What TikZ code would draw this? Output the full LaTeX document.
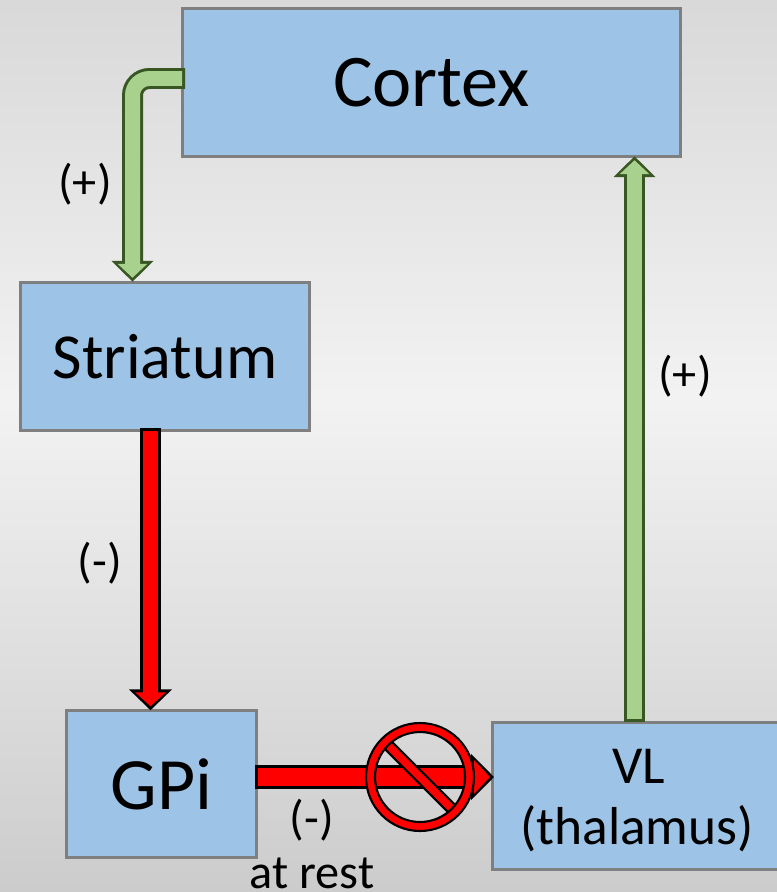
\documentclass[tikz,border=0pt]{standalone}
\usepackage{fontspec}
\setmainfont{Carlito}
\usetikzlibrary{arrows.meta,calc}
\definecolor{boxblue}{HTML}{9DC3E6}
\definecolor{boxline}{HTML}{7F7F7F}
\definecolor{arrowgreen}{HTML}{A9D18E}
\definecolor{arrowdark}{HTML}{385723}
\tikzset{
  area/.style={draw=boxline, fill=boxblue, line width=1.7pt, inner sep=0pt, outer sep=0pt, align=center, minimum height=2.95cm},
  greenline/.style={preaction={draw=arrowdark, line width=.42cm, shorten >=0pt, shorten <=0pt, -{Triangle[width=.82cm,length=.42cm]}},
    draw=arrowgreen, line width=.3cm, shorten >=.08cm, shorten <=.06cm, -{Triangle[width=.58cm,length=.28cm]}},
  redline/.style={preaction={draw=black, line width=.43cm, shorten >=0pt, shorten <=0pt, -{Triangle[width=.84cm,length=.42cm]}},
    draw=red, line width=.31cm, shorten >=.08cm, shorten <=.06cm, -{Triangle[width=.6cm,length=.28cm]}},
  redwide/.style={preaction={draw=black, line width=.49cm, shorten >=0pt, shorten <=0pt, -{Triangle[width=.9cm,length=.46cm]}},
    draw=red, line width=.37cm, shorten >=.08cm, shorten <=.06cm, -{Triangle[width=.66cm,length=.32cm]}},
  lbl/.style={font=\fontsize{27.5}{32}\selectfont, inner sep=0pt}
}
\begin{document}
\begin{tikzpicture}[x=0.02cm,y=-0.02cm]
\useasboundingbox (0,0) rectangle (777,892);
\clip (0,0) rectangle (777,892);
% Background
\shade[top color=black!15, bottom color=black!5, shading angle=0] (0,0) rectangle (777,400);
\shade[top color=black!5, bottom color=black!20, shading angle=0] (0,400) rectangle (777,892);
% Define boxes
\node[area, minimum width=9.98cm, font=\fontsize{42.3}{48}\selectfont] (cortex) at (431.5,82.5) {Cortex};
\node[area, minimum width=5.78cm, font=\fontsize{36.5}{42}\selectfont] (striatum) at (165,356.5) {Striatum};
\node[area, minimum width=3.8cm, font=\fontsize{42}{48}\selectfont] (gpi) at (161.5,784) {GPi};
\node[area, minimum width=5.8cm, font=\fontsize{30.4}{35}\selectfont, text depth=0pt] (vl) at (637,796) {\rule{0pt}{20.5pt}\hspace{2pt}VL\\(thalamus)};
% Connectors
\coordinate (cortexout) at ($(cortex.west)+(3,-4)$);
\coordinate (striatumin) at ($(striatum.north)+(-32.5,-1)$);
\coordinate (vlout) at ($(vl.north)+(-2.5,0)$);
\coordinate (striatumout) at ($(striatum.south)+(-14.5,-2)$);
\coordinate (gpiout) at ($(gpi.east)+(-1,-7)$);
\coordinate (vlin) at ($(vl.west |- gpiout)+(2,0)$);
\draw[greenline, rounded corners=.34cm] (cortexout) -| (striatumin);
\draw[greenline] (vlout) -- (vlout |- cortex.south);
\draw[redline] (striatumout) -- (striatumout |- gpi.north);
\draw[redwide] (gpiout) -- (vlin);
% No sign
\coordinate (nosign) at (420,777);
\begin{scope}[shift={(nosign)}, rotate=-45]
\draw[fill=red, draw=black, line width=1.2pt] (-48,-5) rectangle (48,5);
\end{scope}
\draw[fill=red, draw=black, line width=1.2pt, even odd rule] (nosign) circle (1.08cm) (nosign) circle (.9cm);
% Labels
\node[lbl] (plusleft) at (85,184) {(+)};
\node[lbl] (minusleft) at (100,563) {(-)};
\node[lbl] (plusright) at (685,376) {(+)};
\node[lbl] (minusrest) at (312,820) {(-)};
\node[lbl] (atrest) at (312,873.5) {at rest};
\end{tikzpicture}
\end{document}
